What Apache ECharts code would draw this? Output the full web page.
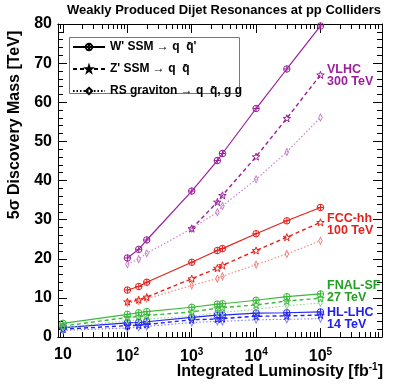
<!DOCTYPE html>
<html>
<head>
<meta charset="utf-8">
<script src="https://cdn.jsdelivr.net/npm/echarts@6/dist/echarts.min.js"></script>
<style>
  html, body { margin: 0; padding: 0; background: #fff; }
  #chart { width: 407px; height: 391px; }
</style>
</head>
<body>
<div id="chart"></div>
<script>
// integrated luminosity points [fb^-1]
const lumi = [10, 100, 150, 200, 1000, 2500, 3000, 10000, 30000, 100000];
const lumi100 = lumi.slice(1);
const lumi1000 = lumi.slice(4);

// 5 sigma discovery mass [TeV]
const hllhcW = [2.4, 3.6, 3.7, 3.9, 5.0, 5.6, 5.6, 6.1, 6.2, 6.4];
const hllhcZ = [2.0, 2.9, 3.0, 3.2, 4.4, 4.6, 4.7, 5.3, 5.4, 5.6];
const hllhcRS = [1.7, 2.3, 2.5, 2.7, 3.7, 4.0, 4.0, 4.4, 4.5, 4.7];

const fnalW = [3.5, 5.8, 6.2, 6.5, 7.6, 8.4, 8.5, 9.4, 10.3, 11.0];
const fnalZ = [2.8, 5.0, 5.2, 5.5, 6.4, 7.4, 7.5, 8.2, 9.2, 9.9];
const fnalRS = [2.4, 4.2, 4.4, 4.6, 5.3, 6.2, 6.3, 7.1, 8.0, 8.7];

const fccW = [12.0, 12.9, 14.0, 19.1, 22.1, 22.6, 26.4, 29.7, 33.1];
const fccZ = [9.0, 9.5, 10.2, 14.9, 17.6, 18.3, 22.1, 25.5, 29.3];
const fccRS = [8.7, 9.2, 9.8, 13.2, 14.9, 15.5, 18.5, 21.2, 24.6];

const vlhcW = [20.2, 22.4, 24.8, 37.3, 45.1, 46.9, 58.4, 68.5, 79.5];
const vlhcZ = [27.7, 34.5, 36.2, 46.1, 55.9, 67.0];
const vlhcRS = [18.6, 19.9, 21.4, 27.7, 31.9, 33.5, 40.3, 47.3, 56.1];

const legendNames = ["W' SSM \u2192 q  q\u0304'", "Z' SSM \u2192 q  q\u0304", "RS graviton \u2192 q  q\u0304, g g"];
const xMajor = [1, 2, 3, 4, 5];
const yTicks = [0, 10, 20, 30, 40, 50, 60, 70, 80];

const FONT = 'Liberation Sans';
const XMIN = 0.922, XMAX = 5.956;

const xMinor = [];
for (let n = 0; n <= 5; n++) {
  for (let k = 2; k <= 9; k++) {
    const v = n + Math.log10(k);
    if (v > XMIN && v < XMAX) xMinor.push(v);
  }
}

const SYM = {
  w: 'path://M0,-10A10,10,0,1,1,0,10A10,10,0,1,1,0,-10ZM0,-10L0,10M-10,0L10,0',
  z: 'path://M0,-10L2.35,-3.24L9.51,-3.09L3.8,1.24L5.88,8.09L0,4L-5.88,8.09L-3.8,1.24L-9.51,-3.09L-2.35,-3.24Z',
  rs: 'path://M0,-10L7,0L0,10L-7,0Z'
};
const STYLE = {
  w: { type: 'solid', width: 1.2, size: 6.5 },
  z: { type: [4, 3], width: 1.4, size: 7.5 },
  rs: { type: [1.5, 2], width: 1.1, size: [5, 7] }
};

function line(name, xs, ys, color, kind) {
  const s = STYLE[kind];
  return {
    name: name,
    type: 'line',
    xAxisIndex: 0,
    yAxisIndex: 0,
    data: ys.map((v, i) => [Math.log10(xs[i]), v]),
    symbol: SYM[kind],
    symbolSize: s.size,
    symbolKeepAspect: true,
    showAllSymbol: true,
    lineStyle: { color: color, type: s.type, width: s.width },
    itemStyle: { color: 'rgba(0,0,0,0)', borderColor: color, borderWidth: 1 },
    emphasis: { disabled: true }
  };
}

const series = [
  line('hlrs', lumi, hllhcRS, '#8080fa', 'rs'),
  line('hlz', lumi, hllhcZ, '#2424f4', 'z'),
  line('hlw', lumi, hllhcW, '#2424f4', 'w'),
  line('fnrs', lumi, fnalRS, '#8fd88f', 'rs'),
  line('fnz', lumi, fnalZ, '#3cb83c', 'z'),
  line('fnw', lumi, fnalW, '#3cb83c', 'w'),
  line('fcrs', lumi100, fccRS, '#f2807c', 'rs'),
  line('fcz', lumi100, fccZ, '#e4211c', 'z'),
  line('fcw', lumi100, fccW, '#e4211c', 'w'),
  line('vlrs', lumi100, vlhcRS, '#c77cc7', 'rs'),
  line('vlz', lumi1000, vlhcZ, '#9b1f9b', 'z'),
  line('vlw', lumi100, vlhcW, '#9b1f9b', 'w'),
  // legend only
  line(legendNames[0], [], [], '#000', 'w'),
  line(legendNames[1], [], [], '#000', 'z'),
  line(legendNames[2], [], [], '#000', 'rs')
];

function xAxis(pos, ticks, len, showLabel) {
  return {
    type: 'value', min: XMIN, max: XMAX, position: pos,
    axisLine: { show: true, onZero: false, lineStyle: { color: '#000', width: 1 } },
    axisTick: { show: true, inside: true, length: len, customValues: ticks, lineStyle: { color: '#000' } },
    axisLabel: showLabel ? {
      customValues: xMajor, margin: 10,
      formatter: v => Math.round(v) === 1 ? '{b|10}' : '{b|10}{s|' + Math.round(v) + '}',
      rich: {
        b: { fontFamily: FONT, fontWeight: 'bold', fontSize: 16, color: '#000' },
        s: { fontFamily: FONT, fontWeight: 'bold', fontSize: 10, color: '#000', padding: [0, 0, 9, 0] }
      }
    } : { show: false },
    splitLine: { show: false }
  };
}

function yAxis(pos, showLabel) {
  return {
    type: 'value', min: 0, max: 80, interval: 10, position: pos,
    axisLine: { show: true, onZero: false, lineStyle: { color: '#000', width: 1 } },
    axisTick: { show: true, inside: true, length: 9, lineStyle: { color: '#000' } },
    minorTick: { show: true, splitNumber: 5, length: 5, lineStyle: { color: '#000' } },
    axisLabel: showLabel ? {
      margin: 6, fontFamily: FONT, fontWeight: 'bold', fontSize: 16, color: '#000',
      customValues: yTicks
    } : { show: false },
    splitLine: { show: false }
  };
}

const chart = echarts.init(document.getElementById('chart'));
chart.setOption({
  animation: false,
  backgroundColor: '#fff',
  grid: { left: 58, right: 25, top: 24, bottom: 54 },
  xAxis: [
    xAxis('bottom', xMajor, 9, true),
    xAxis('bottom', xMinor, 5, false),
    xAxis('top', xMajor, 9, false),
    xAxis('top', xMinor, 5, false)
  ],
  yAxis: [yAxis('left', true), yAxis('right', false)],
  legend: {
    data: legendNames,
    orient: 'vertical',
    left: 72, top: 41,
    itemWidth: 32, itemHeight: 8, itemGap: 10,
    padding: 0,
    selectedMode: false,
    textStyle: { fontFamily: FONT, fontWeight: 'bold', fontSize: 12, color: '#000' }
  },
  graphic: [
    { type: 'rect', shape: { x: 69.5, y: 37.5, width: 170, height: 56 },
      style: { fill: 'none', stroke: '#777', lineWidth: 1 }, z: 0 },
    { type: 'text', x: 224, y: 10,
      style: { text: 'Weakly Produced Dijet Resonances at pp Colliders', font: 'bold 13px ' + FONT,
        fill: '#000', align: 'center', verticalAlign: 'middle' } },
    { type: 'text', x: 15, y: 125, rotation: Math.PI / 2,
      style: { text: '5\u03c3 Discovery Mass [TeV]', font: 'bold 16px ' + FONT,
        fill: '#000', align: 'center', verticalAlign: 'middle' } },
    { type: 'text', x: 383, y: 372,
      style: { text: '{a|Integrated Luminosity [fb}{s|-1}{a|]}', align: 'right', verticalAlign: 'middle',
        rich: {
          a: { fontFamily: FONT, fontWeight: 'bold', fontSize: 16, fill: '#000' },
          s: { fontFamily: FONT, fontWeight: 'bold', fontSize: 10, fill: '#000', padding: [0, 0, 9, 0] }
        } } },
    { type: 'text', x: 327, y: 64,
      style: { text: 'VLHC\n300 TeV', font: 'bold 12.5px ' + FONT, lineHeight: 11.5, fill: '#9b1f9b' } },
    { type: 'text', x: 327, y: 213,
      style: { text: 'FCC-hh\n100 TeV', font: 'bold 12.5px ' + FONT, lineHeight: 11.5, fill: '#e4211c' } },
    { type: 'text', x: 327, y: 280,
      style: { text: 'FNAL-SF\n27 TeV', font: 'bold 12.5px ' + FONT, lineHeight: 11.5, fill: '#23a023' } },
    { type: 'text', x: 327, y: 307,
      style: { text: 'HL-LHC\n14 TeV', font: 'bold 12.5px ' + FONT, lineHeight: 11.5, fill: '#2020ee' } }
  ],
  series: series
});
</script>
</body>
</html>
